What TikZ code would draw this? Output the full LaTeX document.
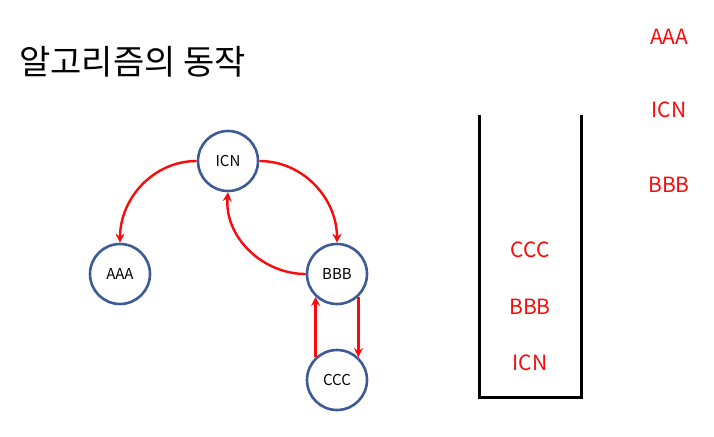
\documentclass[tikz,border=0pt]{standalone}
\usepackage{fontspec}
\setmainfont{Noto Sans CJK KR}
\usepackage{tikz}
\usetikzlibrary{arrows.meta}
\usetikzlibrary{positioning}
\definecolor{cityblue}{RGB}{59,90,150}
\definecolor{pathred}{RGB}{250,10,10}

\begin{document}
\begin{tikzpicture}[x=1pt,y=-1pt,
  city/.style={draw=cityblue, line width=2.6pt, circle, minimum size=60pt,
               inner sep=0pt, font=\fontsize{15}{17}\selectfont},
  route/.style={draw=pathred, line width=2.4pt, -{Stealth[length=9pt,width=9pt,inset=3pt]}},
  item/.style={text=pathred, font=\fontsize{21}{24}\selectfont, inner sep=0pt}]
 \useasboundingbox (0,0) rectangle (714,436);
\node[anchor=west, font=\fontsize{34}{40}\selectfont, inner sep=0pt] (title) at (19,62) {알고리즘의 동작};
\node[city] (icn) at (228,161) {ICN};
\node[city] (aaa) at (120,274) {AAA};
\node[city] (bbb) at (337,274) {BBB};
\node[city] (ccc) at (337,380) {CCC};
\draw[route] (icn.west) to[out=180,in=90] (aaa.north);
\draw[route] (icn.east) to[out=0,in=90] (bbb.north);
\draw[route] (bbb.west) to[out=180,in=-95] (icn.south);
\draw[route] (ccc.133) -- (ccc.133 |- bbb.-133);
\draw[route] (bbb.-47) -- (bbb.-47 |- ccc.47);
\coordinate (s1) at (479,115);
\coordinate (s2) at (479,397);
\coordinate (s3) at (581,397);
\coordinate (s4) at (581,115);
\draw[line width=3pt] (s1) -- (s2) -- (s3) -- (s4);
\node[item] (stack1) at (530,363) {ICN};
\node[item] (stack2) at (530,307) {BBB};
\node[item] (stack3) at (530,250) {CCC};
\node[item] (out1) at (669,37) {AAA};
\node[item] (out2) at (669,110) {ICN};
\node[item] (out3) at (669,185) {BBB};
\end{tikzpicture}
\end{document}
